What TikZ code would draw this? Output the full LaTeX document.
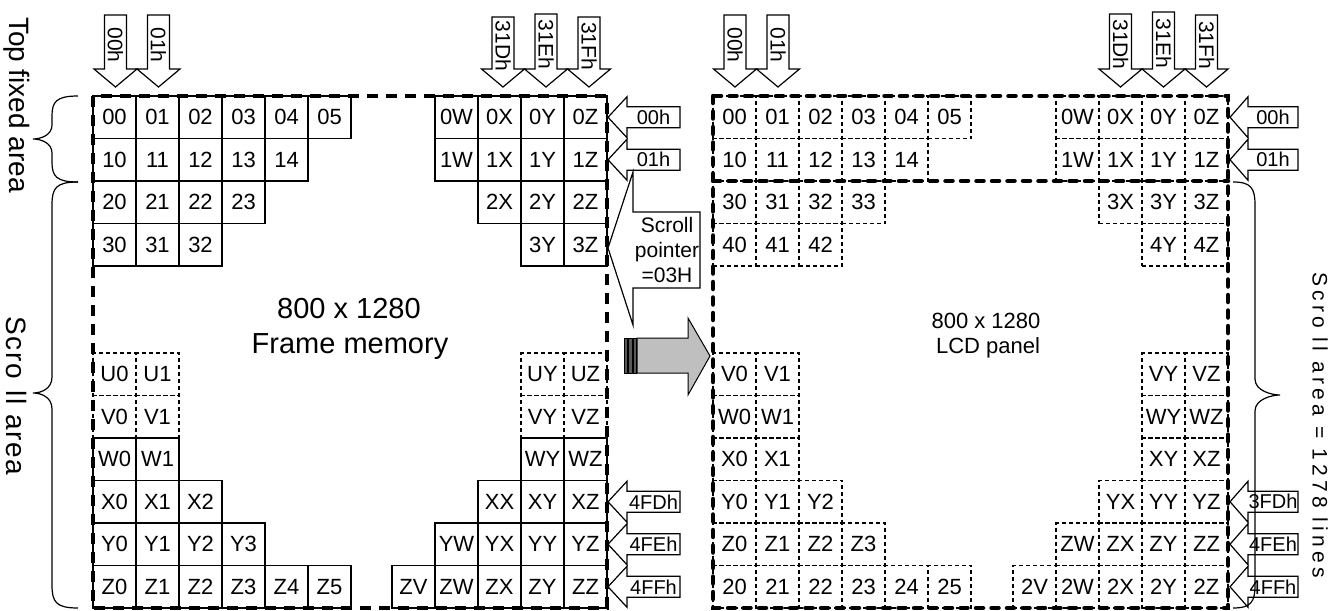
\documentclass[tikz,border=0pt]{standalone}
\usepackage{fontspec}
\setmainfont{Liberation Sans}
\tikzset{
  lcell/.style={draw, line width=1.2pt, minimum width=43pt, minimum height=42.5pt, inner sep=0pt, font=\fontsize{22}{26}\selectfont},
  ldcell/.style={lcell, dash pattern=on 4pt off 3pt},
  rcell/.style={ldcell},
  lframe/.style={line width=4.5pt, dash pattern=on 11pt off 8pt},
  rframe/.style={line width=4.5pt, line cap=round, dash pattern=on 7pt off 8.5pt},
  arrshape/.style={draw, fill=white, line width=1.2pt, line join=miter},
  albl/.style={font=\fontsize{20}{24}\selectfont, inner sep=0pt},
  dlbl/.style={font=\fontsize{21}{24}\selectfont, inner sep=0pt, rotate=-90},
  bracestyle/.style={line width=1.2pt},
}
\newcommand\cellrow[5]{\foreach \t [count=\i from 0] in {#5} {\node[#1] (#2\t) at ({#3+43*\i+21.5},{#4+21.25}) {\t};}}
\newcommand\darrow[4]{%
  \draw[arrshape] ({#2-11},#3) -- ({#2+11},#3) -- ({#2+11},69) -- ({#2+21.5},69) -- (#2,87) -- ({#2-21.5},69) -- ({#2-11},69) -- cycle;
  \node[dlbl] (#1) at (#2,{(#3+69)/2+3}) {#4};}
\newcommand\larrow[6]{%
  \draw[arrshape] (#2,#5) -- (#3,{#5-20.5}) -- (#3,{#5-10.5}) -- (#4,{#5-10.5}) -- (#4,{#5+10.5}) -- (#3,{#5+10.5}) -- (#3,{#5+20.5}) -- cycle;
  \node[albl] (#1) at ({(#3+#4)/2},#5) {#6};}
\begin{document}
\begin{tikzpicture}[x=1pt,y=-1pt]
\useasboundingbox (0,0) rectangle (1343,610);
% ---------- left grid (frame memory)
\cellrow{lcell}{L}{93}{96}{00,01,02,03,04,05}
\cellrow{lcell}{L}{93}{138.5}{10,11,12,13,14}
\cellrow{lcell}{L}{93}{181}{20,21,22,23}
\cellrow{lcell}{L}{93}{223.5}{30,31,32}
\cellrow{lcell}{L}{435}{96}{0W,0X,0Y,0Z}
\cellrow{lcell}{L}{435}{138.5}{1W,1X,1Y,1Z}
\cellrow{lcell}{L}{478}{181}{2X,2Y,2Z}
\cellrow{lcell}{L}{521}{223.5}{3Y,3Z}
\cellrow{ldcell}{L}{93}{353}{U0,U1}
\cellrow{ldcell}{L}{93}{395.5}{V0,V1}
\cellrow{lcell}{L}{93}{438}{W0,W1}
\cellrow{lcell}{L}{93}{480.5}{X0,X1,X2}
\cellrow{lcell}{L}{93}{523}{Y0,Y1,Y2,Y3}
\cellrow{lcell}{L}{93}{565.5}{Z0,Z1,Z2,Z3,Z4,Z5}
\cellrow{ldcell}{L}{521}{353}{UY,UZ}
\cellrow{ldcell}{L}{521}{395.5}{VY,VZ}
\cellrow{lcell}{L}{521}{438}{WY,WZ}
\cellrow{lcell}{L}{478}{480.5}{XX,XY,XZ}
\cellrow{lcell}{L}{435}{523}{YW,YX,YY,YZ}
\cellrow{lcell}{L}{392}{565.5}{ZV,ZW,ZX,ZY,ZZ}
\draw[lframe] (93,96) rectangle (607,608);
\node[anchor=base, font=\fontsize{29}{35}\selectfont, inner sep=0pt] (fm1) at (349,318) {800 x 1280};
\node[anchor=base, font=\fontsize{29}{35}\selectfont, inner sep=0pt] (fm2) at (350,353) {Frame memory};
% ---------- right grid (LCD panel)
\cellrow{rcell}{R}{713}{96}{00,01,02,03,04,05}
\cellrow{rcell}{R}{713}{138.5}{10,11,12,13,14}
\cellrow{rcell}{R}{713}{181}{30,31,32,33}
\cellrow{rcell}{R}{713}{223.5}{40,41,42}
\cellrow{rcell}{R}{1056}{96}{0W,0X,0Y,0Z}
\cellrow{rcell}{R}{1056}{138.5}{1W,1X,1Y,1Z}
\cellrow{rcell}{R}{1099}{181}{3X,3Y,3Z}
\cellrow{rcell}{R}{1142}{223.5}{4Y,4Z}
\cellrow{rcell}{R}{713}{353}{V0,V1}
\cellrow{rcell}{R}{713}{395.5}{W0,W1}
\cellrow{rcell}{R}{713}{438}{X0,X1}
\cellrow{rcell}{R}{713}{480.5}{Y0,Y1,Y2}
\cellrow{rcell}{R}{713}{523}{Z0,Z1,Z2,Z3}
\cellrow{rcell}{R}{713}{565.5}{20,21,22,23,24,25}
\cellrow{rcell}{R}{1142}{353}{VY,VZ}
\cellrow{rcell}{R}{1142}{395.5}{WY,WZ}
\cellrow{rcell}{R}{1142}{438}{XY,XZ}
\cellrow{rcell}{R}{1099}{480.5}{YX,YY,YZ}
\cellrow{rcell}{R}{1056}{523}{ZW,ZX,ZY,ZZ}
\cellrow{rcell}{R}{1013}{565.5}{2V,2W,2X,2Y,2Z}
\draw[rframe] (713,96) rectangle (1228,608);
\draw[rframe] (713,181) -- (1228,181);
\node[anchor=base, font=\fontsize{22}{25}\selectfont, inner sep=0pt] (lcd1) at (986,328) {800 x 1280};
\node[anchor=base, font=\fontsize{22}{25}\selectfont, inner sep=0pt] (lcd2) at (988,353) {LCD panel};
% ---------- top arrows
\darrow{a1}{115.5}{15}{00h}
\darrow{a2}{158.5}{15}{01h}
\darrow{a3}{503}{17}{31Dh}
\darrow{a4}{546}{14}{31Eh}
\darrow{a5}{589}{17}{31Fh}
\darrow{b1}{735}{15}{00h}
\darrow{b2}{778}{15}{01h}
\darrow{b3}{1120.5}{14}{31Dh}
\darrow{b4}{1163.5}{12}{31Eh}
\darrow{b5}{1206.5}{15}{31Fh}
% ---------- side arrows
\larrow{c1}{608}{627}{680}{117.25}{00h}
\larrow{c2}{608}{627}{680}{159.75}{01h}
\larrow{c3}{608}{627}{680}{501.75}{4FDh}
\larrow{c4}{608}{627}{680}{544.25}{4FEh}
\larrow{c5}{608}{627}{680}{586.75}{4FFh}
\larrow{d1}{1230}{1248}{1298}{117.25}{00h}
\larrow{d2}{1230}{1248}{1298}{159.75}{01h}
\larrow{d3}{1230}{1248}{1298}{501.75}{3FDh}
\larrow{d4}{1230}{1248}{1298}{544.25}{4FEh}
\larrow{d5}{1230}{1248}{1298}{586.75}{4FFh}
% ---------- scroll pointer callout
\draw[arrshape] (608,248) -- (633,172) -- (633,212) -- (700,212) -- (700,288) -- (633,288) -- (633,325) -- cycle;
\node[align=center, font=\fontsize{21}{25}\selectfont, inner sep=0pt] (sp) at (667,250) {Scroll\\pointer\\=03H};
% ---------- gray transfer arrow
\draw[line width=1pt, fill=black!25] (637,338) -- (688,338) -- (688,318) -- (710,356) -- (688,395) -- (688,373) -- (637,373) -- cycle;
\draw[line width=0.8pt, fill=black!65] (624,338) rectangle (627,373);
\draw[line width=0.8pt, fill=black!65] (628.5,338) rectangle (632,373);
\draw[line width=0.8pt, fill=black!65] (633.5,338) rectangle (636.5,373);
% ---------- braces
\draw[bracestyle] (78,96) .. controls (56,96) and (52,102) .. (52,116) -- (52,125) .. controls (52,135) and (41,139) .. (33,139) .. controls (41,139) and (52,143) .. (52,153) -- (52,162) .. controls (52,176) and (56,182) .. (78,182);
\draw[bracestyle] (78,182) .. controls (56,182) and (52,188) .. (52,205) -- (52,377) .. controls (52,389) and (41,393) .. (33,393) .. controls (41,393) and (52,397) .. (52,409) -- (52,585) .. controls (52,602) and (56,608) .. (78,608);
\draw[bracestyle] (1233,182) .. controls (1251,182) and (1255,188) .. (1255,205) -- (1255,379) .. controls (1255,391) and (1272,395) .. (1280,395) .. controls (1272,395) and (1255,399) .. (1255,411) -- (1255,585) .. controls (1255,602) and (1251,608) .. (1233,608);
% ---------- side texts
\node[rotate=-90, font=\fontsize{28}{32}\selectfont] (tfa) at (17,105) {Top fixed area};
\node[rotate=-90, font=\fontsize{28}{32}\selectfont\addfontfeature{LetterSpace=6}] (sa) at (17,396) {Scro\hspace{2pt} ll area};
\node[rotate=-90, font=\fontsize{21}{24}\selectfont\addfontfeature{LetterSpace=20}] (sal) at (1320,425) {Scro ll area = 1278 lines};
\end{tikzpicture}
\end{document}
